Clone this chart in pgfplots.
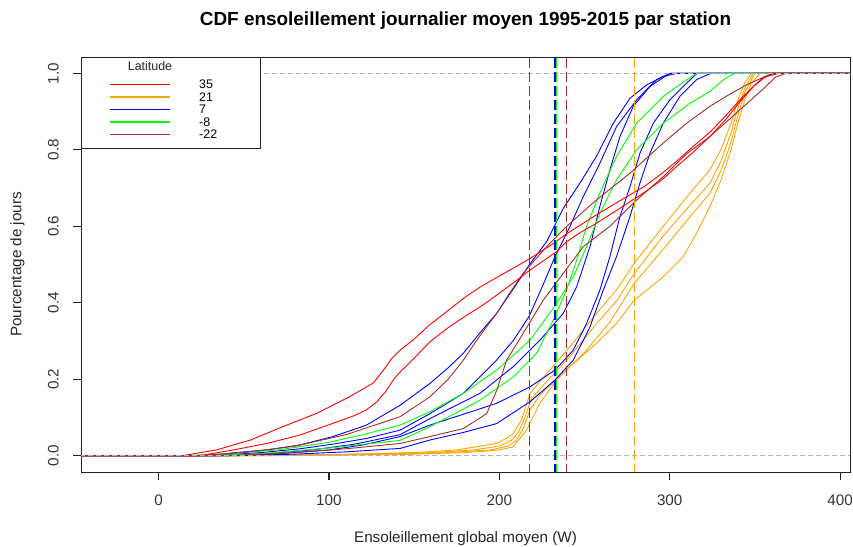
\documentclass[border=0pt]{standalone}
\usepackage{fontspec}
\setmainfont{Liberation Sans}
\usepackage{pgfplots}
\pgfplotsset{compat=1.18}
\definecolor{rbrown}{HTML}{A52A2A}
\definecolor{rorange}{HTML}{FFA500}
\definecolor{rgreen}{HTML}{00FF00}
\definecolor{rblue}{HTML}{0000FF}
\definecolor{rred}{HTML}{FF0000}
\definecolor{rgray}{HTML}{B3B3B3}
\definecolor{boxc}{HTML}{222222}
\begin{document}
\begin{tikzpicture}
\path[use as bounding box] (0,0) rectangle (853bp,547bp);
\begin{axis}[
 at={(81bp,75bp)}, anchor=south west,
 scale only axis, width=769bp, height=415bp,
 xmin=-45.5, xmax=405.8, ymin=-0.0427, ymax=1.043,
 axis line style={draw=boxc, line width=0.8bp},
 xtick={0,100,200,300,400}, ytick={0,0.2,0.4,0.6,0.8,1},
 tick align=outside, major tick length=7.5bp,
 tick style={black, line width=1bp},
 tick pos=left,
 ticklabel style={font=\fontsize{15.3}{16}\selectfont, text=black!80},
 /pgf/number format/assume math mode=true,
 yticklabel style={/pgf/number format/fixed, /pgf/number format/fixed zerofill, /pgf/number format/precision=1},
 xticklabel style={anchor=center, yshift=-20.5bp},
 yticklabel style={anchor=center, xshift=-20bp, rotate=90},
 xlabel={Ensoleillement global moyen (W)},
 ylabel={Pourcentage de jours},
 label style={font=\fontsize{15.3}{16}\selectfont, text=black!85},
 xlabel style={at={(axis description cs:0.5,-0.1614)}, anchor=center},
 ylabel style={at={(axis description cs:-0.0826,0.5)}, anchor=center},
 title={CDF ensoleillement journalier moyen 1995-2015 par station},
 title style={font=\bfseries\fontsize{19}{20}\selectfont, at={(axis description cs:0.5,1.073)}, anchor=center},
 every axis plot/.append style={line width=0.9bp},
]
% orange (21)
\addplot[rorange] coordinates {(-60,0)(40,0)(100,0.003)(150,0.008)(175,0.015)(198.4,0.032)(204,0.045)(208.2,0.058)(213,0.093)(218,0.163)(227.8,0.215)(241.5,0.285)(257,0.372)(268.8,0.434)(280.6,0.512)(296.2,0.6)(311.9,0.687)(323.6,0.748)(330,0.80)(336,0.87)(340,0.93)(344,0.975)(348,1)(420,1)};
\addplot[rorange] coordinates {(-60,0)(50,0)(110,0.003)(160,0.008)(185,0.015)(200,0.025)(207,0.04)(211,0.06)(215,0.1)(219,0.15)(228,0.195)(241.5,0.26)(257,0.345)(268.8,0.405)(279.2,0.477)(296.2,0.575)(311.9,0.655)(323.6,0.713)(330,0.77)(336,0.845)(340,0.91)(344,0.96)(349,1)(420,1)};
\addplot[rorange] coordinates {(-60,0)(60,0)(130,0.003)(170,0.008)(195,0.015)(205,0.025)(210,0.04)(214,0.07)(218,0.12)(224,0.16)(235,0.205)(250,0.27)(265,0.35)(279.2,0.451)(296.2,0.54)(311.9,0.625)(323.6,0.687)(330,0.745)(336,0.82)(340,0.89)(344,0.95)(350,1)(420,1)};
\addplot[rorange] coordinates {(-60,0)(70,0)(140,0.003)(180,0.008)(200,0.015)(208,0.023)(216,0.067)(223.8,0.137)(233.6,0.198)(241.5,0.233)(257,0.294)(268.8,0.346)(279.2,0.407)(296.2,0.468)(308,0.521)(315.8,0.582)(323.6,0.652)(330,0.72)(336,0.80)(340,0.87)(344,0.93)(348,0.975)(353,1)(420,1)};
% blue (7)
\addplot[rblue] coordinates {(-60,0)(28,0)(45,0.008)(63.5,0.015)(83,0.028)(102.4,0.05)(122,0.08)(141.8,0.132)(159.3,0.189)(170,0.23)(178.9,0.268)(188,0.318)(198.4,0.372)(208,0.435)(218,0.502)(227.8,0.56)(237.5,0.647)(247.3,0.713)(257,0.783)(266.9,0.87)(276.7,0.935)(286.4,0.97)(296.2,0.992)(304,1)(420,1)};
\addplot[rblue] coordinates {(-60,0)(32,0)(60,0.008)(83,0.018)(102,0.03)(122,0.045)(141.8,0.067)(159.3,0.11)(178.9,0.163)(198.4,0.25)(208,0.3)(217.4,0.364)(225,0.44)(232.7,0.521)(241.5,0.6)(249.3,0.678)(259,0.765)(268.8,0.861)(280.6,0.931)(292.3,0.984)(300,1)(420,1)};
\addplot[rblue] coordinates {(-60,0)(35,0)(65,0.006)(90,0.015)(115,0.03)(141.8,0.055)(159.3,0.097)(188.6,0.163)(208.2,0.233)(223.8,0.302)(237.5,0.372)(245.4,0.442)(253.2,0.547)(259,0.652)(264.9,0.748)(270.8,0.835)(278.6,0.914)(288.4,0.966)(300,1)(420,1)};
\addplot[rblue] coordinates {(-60,0)(40,0)(70,0.005)(100,0.015)(120,0.028)(141.8,0.05)(159.3,0.08)(180,0.11)(198.4,0.137)(218,0.18)(232.7,0.224)(243.4,0.276)(251.2,0.346)(259,0.433)(264.9,0.521)(270.8,0.626)(276.7,0.704)(282.5,0.791)(290.4,0.87)(300.1,0.931)(310,0.975)(316,1)(420,1)};
\addplot[rblue] coordinates {(-60,0)(45,0)(80,0.004)(110,0.01)(141.8,0.019)(159.3,0.041)(180,0.062)(198.4,0.084)(218,0.141)(232.7,0.198)(243.4,0.25)(253.2,0.337)(261,0.433)(268.8,0.521)(276.7,0.626)(282.5,0.713)(288.4,0.791)(296.2,0.87)(306,0.94)(315.8,0.984)(324,1)(420,1)};
% green (-8)
\addplot[rgreen] coordinates {(-60,0)(25,0)(60,0.005)(100,0.02)(141.8,0.04)(159.3,0.076)(188.6,0.145)(208.2,0.206)(221.9,0.268)(231.7,0.355)(239.5,0.434)(245.4,0.512)(251.2,0.6)(259,0.687)(268.8,0.783)(280.6,0.87)(296.2,0.94)(310,0.984)(316,1)(420,1)};
\addplot[rgreen] coordinates {(-60,0)(15,0)(40,0.005)(70,0.015)(100,0.035)(120,0.055)(141.8,0.08)(159.3,0.115)(178.9,0.163)(198.4,0.224)(218,0.302)(233.6,0.398)(243.4,0.468)(251.2,0.547)(259,0.634)(268.8,0.722)(280.6,0.8)(296.2,0.87)(311.9,0.922)(323.6,0.953)(332,0.985)(338,1)(420,1)};
% brown (-22)
\addplot[rbrown] coordinates {(-60,0)(22,0)(50,0.008)(80,0.025)(110,0.055)(141.8,0.102)(159.3,0.154)(170,0.2)(178.9,0.25)(188,0.31)(198.4,0.372)(206,0.425)(214,0.477)(227.8,0.547)(239.5,0.6)(257,0.669)(276.7,0.739)(296.2,0.818)(310,0.87)(323.6,0.914)(335,0.945)(345,0.97)(355,0.99)(364,1)(420,1)};
\addplot[rbrown] coordinates {(-60,0)(40,0)(80,0.008)(110,0.018)(141.8,0.032)(159.3,0.05)(178.9,0.071)(192.6,0.11)(198.4,0.17)(204.3,0.25)(214,0.32)(225.8,0.407)(237.5,0.477)(249.3,0.547)(264.9,0.6)(280.6,0.669)(296.2,0.73)(310,0.79)(323.6,0.835)(335,0.88)(345,0.92)(355,0.96)(362,0.99)(368,1)(420,1)};
% red (35)
\addplot[rred] coordinates {(-60,0)(14,0)(34,0.015)(54,0.041)(73,0.076)(93,0.111)(112,0.154)(126,0.19)(132,0.224)(137,0.255)(142,0.277)(150,0.305)(159,0.342)(170,0.38)(180,0.415)(189,0.442)(200,0.47)(210,0.495)(218,0.516)(230,0.55)(240,0.582)(257,0.63)(270,0.665)(285,0.704)(295,0.737)(304,0.77)(314,0.81)(324,0.848)(333,0.89)(342,0.935)(350,0.97)(356,0.99)(361,1)(420,1)};
\addplot[rred] coordinates {(-60,0)(24,0)(44,0.015)(63.5,0.032)(83,0.054)(102.6,0.085)(115,0.105)(122,0.12)(128,0.14)(134,0.172)(138,0.2)(142,0.22)(150,0.255)(159.3,0.298)(170,0.335)(180,0.365)(189,0.39)(200,0.425)(210,0.458)(218,0.486)(226,0.51)(233.6,0.534)(239.5,0.56)(248,0.585)(257,0.608)(270,0.645)(284.5,0.687)(295,0.72)(304,0.756)(314,0.795)(323.6,0.835)(333,0.88)(341,0.925)(349,0.965)(355,0.99)(360,1)(420,1)};
% reference lines
\addplot[rgray, line width=0.8bp, dash pattern=on 5bp off 3bp] coordinates {(-60,0)(420,0)};
\addplot[rgray, line width=0.8bp, dash pattern=on 5bp off 3bp] coordinates {(-60,1)(420,1)};
\addplot[rred, line width=1.1bp, dash pattern=on 10bp off 4bp] coordinates {(217.6,-1)(217.6,2)};
\addplot[rblue, line width=1.2bp, dash pattern=on 10bp off 4bp] coordinates {(232.7,-1)(232.7,2)};
\addplot[rgreen, line width=1.1bp, dash pattern=on 10bp off 4bp] coordinates {(233.5,-1)(233.5,2)};
\addplot[rbrown, line width=1.1bp, dash pattern=on 10bp off 4bp] coordinates {(239.3,-1)(239.3,2)};
\addplot[rorange, line width=1.1bp, dash pattern=on 10bp off 4bp] coordinates {(279.2,-1)(279.2,2)};
\end{axis}
% tick marks drawn as thin filled bars outside the box
\fill[boxc] (158.0bp,67bp) rectangle (159.1bp,75bp);
\fill[boxc] (328.4bp,67bp) rectangle (329.5bp,75bp);
\fill[boxc] (498.8bp,67bp) rectangle (499.9bp,75bp);
\fill[boxc] (669.2bp,67bp) rectangle (670.3bp,75bp);
\fill[boxc] (839.6bp,67bp) rectangle (840.7bp,75bp);
\fill[boxc] (73bp,90.8bp) rectangle (81bp,91.9bp);
\fill[boxc] (73bp,167.2bp) rectangle (81bp,168.3bp);
\fill[boxc] (73bp,243.7bp) rectangle (81bp,244.8bp);
\fill[boxc] (73bp,320.1bp) rectangle (81bp,321.2bp);
\fill[boxc] (73bp,396.6bp) rectangle (81bp,397.7bp);
\fill[boxc] (73bp,473.0bp) rectangle (81bp,474.1bp);
% legend
\begin{scope}[font=\fontsize{12.5}{13}\selectfont]
\draw[fill=white, draw=boxc, line width=0.8bp] (81bp,399bp) rectangle (260bp,490bp);
\node[text=black!85] at (150bp,481bp) {Latitude};
\draw[rred, line width=1.2bp] (110bp,462.5bp) -- (170bp,462.5bp);
\draw[rorange, line width=1.2bp] (110bp,450bp) -- (170bp,450bp);
\draw[rblue, line width=1.2bp] (110bp,437.5bp) -- (170bp,437.5bp);
\draw[rgreen, line width=1.2bp] (110bp,425bp) -- (170bp,425bp);
\draw[rbrown, line width=1.2bp] (110bp,412.5bp) -- (170bp,412.5bp);
\node[anchor=west, inner sep=0pt] at (199bp,462.5bp) {35};
\node[anchor=west, inner sep=0pt] at (199bp,450bp) {21};
\node[anchor=west, inner sep=0pt] at (199bp,437.5bp) {7};
\node[anchor=west, inner sep=0pt] at (199bp,425bp) {-8};
\node[anchor=west, inner sep=0pt] at (199bp,412.5bp) {-22};
\end{scope}
\end{tikzpicture}
\end{document}
